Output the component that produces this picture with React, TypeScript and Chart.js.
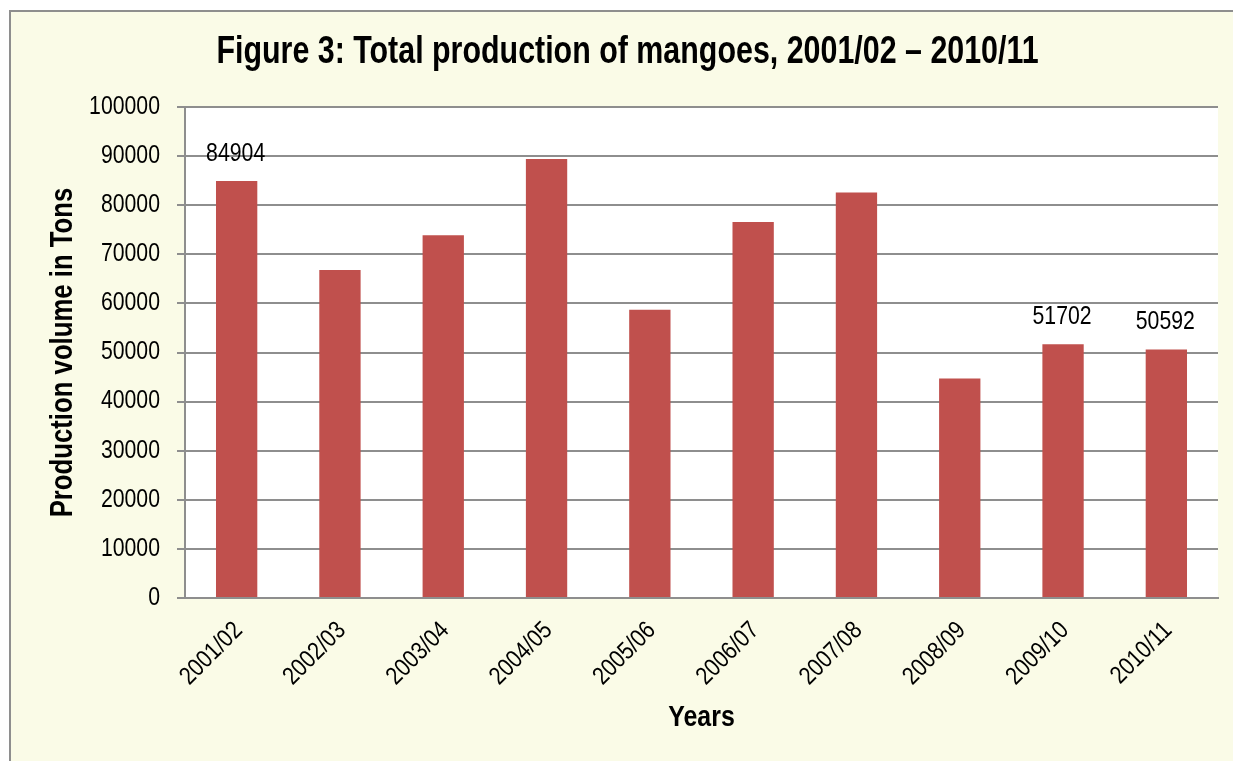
import { useEffect, useRef } from "react";
import { Chart, registerables } from "chart.js";

Chart.register(...registerables);

// ---- data ----
const categories = [
  "2001/02",
  "2002/03",
  "2003/04",
  "2004/05",
  "2005/06",
  "2006/07",
  "2007/08",
  "2008/09",
  "2009/10",
  "2010/11",
];
const production = [84904, 66800, 73900, 89400, 58700, 76600, 82600, 44700, 51702, 50592];
const labelledIndices = [0, 8, 9];
const yMin = 0;
const yMax = 100000;
const yStep = 10000;

const chartTitle = "Figure 3: Total production of mangoes, 2001/02 \u2013 2010/11";
const yTitle = "Production volume in Tons";
const xTitle = "Years";

const FAMILY = "'Liberation Sans', Arial, sans-serif";
const GRID = "#8e8e8e";
const CREAM = "#fafbe7";
const BAR = "#c0504d";

// Narrow-looking text: compress glyphs horizontally along the text direction.
function installCondensedText(ctx: CanvasRenderingContext2D) {
  const origFill = ctx.fillText.bind(ctx);
  const origMeasure = ctx.measureText.bind(ctx);
  const factorFor = (font: string) => {
    const bold = /bold|700/.test(font);
    const m = font.match(/(\d+(?:\.\d+)?)px/);
    const size = m ? parseFloat(m[1]) : 12;
    if (bold) return size >= 35 ? 0.8 : 0.83;
    return 0.85;
  };
  (ctx as any).fillText = function (text: string, x: number, y: number, maxWidth?: number) {
    const c = factorFor(ctx.font);
    ctx.save();
    ctx.translate(x, y);
    ctx.scale(c, 1);
    if (maxWidth === undefined || maxWidth === null) origFill(text, 0, 0);
    else origFill(text, 0, 0, maxWidth / c);
    ctx.restore();
  };
  (ctx as any).measureText = function (text: string) {
    const m = origMeasure(text);
    const c = factorFor(ctx.font);
    return {
      width: m.width * c,
      actualBoundingBoxAscent: m.actualBoundingBoxAscent,
      actualBoundingBoxDescent: m.actualBoundingBoxDescent,
      actualBoundingBoxLeft: m.actualBoundingBoxLeft * c,
      actualBoundingBoxRight: m.actualBoundingBoxRight * c,
      fontBoundingBoxAscent: m.fontBoundingBoxAscent,
      fontBoundingBoxDescent: m.fontBoundingBoxDescent,
    };
  };
}

const backgroundPlugin = {
  id: "frameBackground",
  beforeDraw(chart: any) {
    const { ctx, width, height, chartArea } = chart;
    ctx.save();
    ctx.fillStyle = "#ffffff";
    ctx.fillRect(0, 0, width, height);
    ctx.fillStyle = CREAM;
    ctx.fillRect(10, 11, width - 10, height - 11);
    ctx.strokeStyle = GRID;
    ctx.lineWidth = 2;
    ctx.beginPath();
    ctx.moveTo(10, height + 2);
    ctx.lineTo(10, 11);
    ctx.lineTo(width + 2, 11);
    ctx.stroke();
    ctx.fillStyle = "#ffffff";
    ctx.fillRect(chartArea.left, chartArea.top, chartArea.right - chartArea.left, chartArea.bottom - chartArea.top);
    ctx.restore();
  },
};

const valueLabelPlugin = {
  id: "valueLabels",
  afterDatasetsDraw(chart: any) {
    const { ctx } = chart;
    const meta = chart.getDatasetMeta(0);
    const data = chart.data.datasets[0].data as number[];
    ctx.save();
    ctx.fillStyle = "#000000";
    ctx.font = `25px ${FAMILY}`;
    ctx.textAlign = "center";
    ctx.textBaseline = "middle";
    labelledIndices.forEach((i) => {
      const el = meta.data[i];
      if (!el) return;
      ctx.fillText(String(data[i]), el.x - 1, el.y - 27);
    });
    ctx.restore();
  },
};

export default function App() {
  const canvasRef = useRef<HTMLCanvasElement | null>(null);

  useEffect(() => {
    const canvas = canvasRef.current;
    if (!canvas) return;
    const ctx2d = canvas.getContext("2d");
    if (ctx2d && !(ctx2d as any).__condensed) {
      installCondensedText(ctx2d);
      (ctx2d as any).__condensed = true;
    }
    const chart = new Chart(canvas, {
      type: "bar",
      data: {
        labels: categories,
        datasets: [
          {
            label: "Production",
            data: production,
            backgroundColor: BAR,
            barPercentage: 0.4,
            categoryPercentage: 1.0,
          },
        ],
      },
      options: {
        responsive: false,
        animation: false,
        layout: { padding: { left: 37, right: 15, top: 0, bottom: 0 } },
        plugins: {
          legend: { display: false },
          tooltip: { enabled: false },
          title: {
            display: true,
            text: chartTitle,
            color: "#000000",
            font: { family: FAMILY, size: 38, weight: "bold", lineHeight: 1.2 },
            padding: { top: 30, bottom: 31.4 },
          },
        },
        scales: {
          x: {
            grid: { display: false, drawTicks: false },
            border: { display: true, color: GRID, width: 2 },
            ticks: {
              color: "#000000",
              font: { family: FAMILY, size: 25, lineHeight: 1.2 },
              minRotation: 45,
              maxRotation: 45,
              autoSkip: false,
              padding: 18,
              labelOffset: 2,
            },
            title: {
              display: true,
              text: xTitle,
              color: "#000000",
              font: { family: FAMILY, size: 30, weight: "bold", lineHeight: 1.2 },
              padding: { top: 0, bottom: 25 },
            },
            afterFit(scale: any) {
              scale.height = 163;
            },
          },
          y: {
            min: yMin,
            max: yMax,
            grid: { color: GRID, lineWidth: 2, tickLength: 8, drawTicks: true },
            border: { display: true, color: GRID, width: 2 },
            ticks: {
              stepSize: yStep,
              color: "#000000",
              font: { family: FAMILY, size: 25, lineHeight: 1.2 },
              padding: 17,
              callback: (v: any) => String(v),
            },
            title: {
              display: true,
              text: yTitle,
              color: "#000000",
              font: { family: FAMILY, size: 31, weight: "bold", lineHeight: 1.2 },
              padding: { top: 8, bottom: 0 },
            },
            afterFit(scale: any) {
              scale.width = 148;
            },
          },
        },
      },
      plugins: [backgroundPlugin, valueLabelPlugin],
    });
    return () => chart.destroy();
  }, []);

  return (
    <div style={{ position: "absolute", left: 0, top: 0, width: 1233, height: 761 }}>
      <canvas ref={canvasRef} width={1233} height={761} style={{ display: "block" }} />
    </div>
  );
}
